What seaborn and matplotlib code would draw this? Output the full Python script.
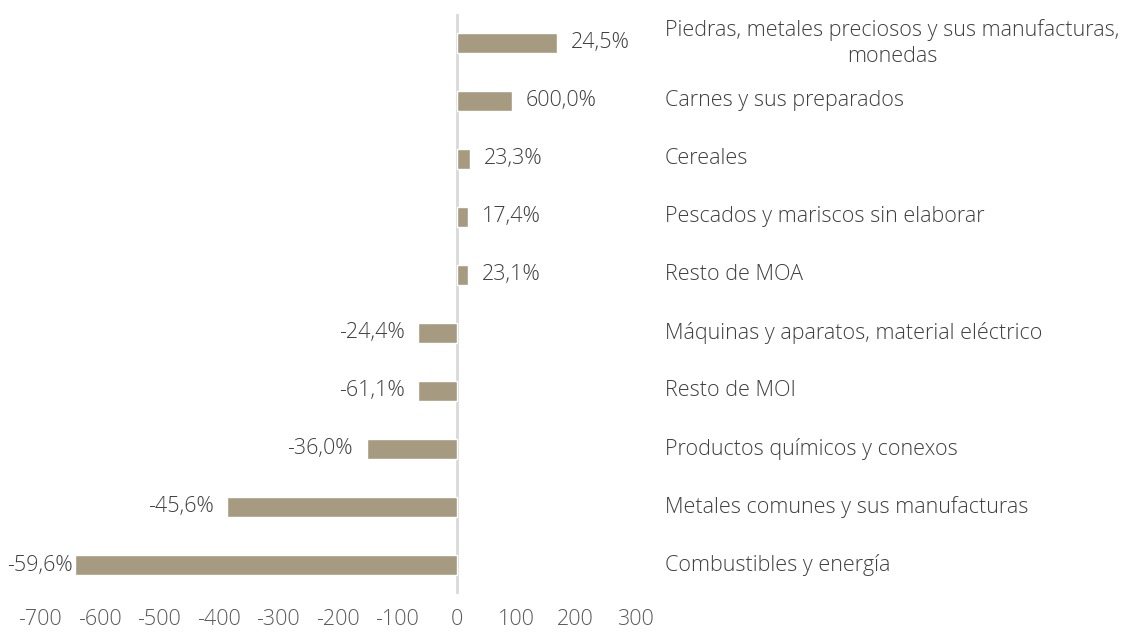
import matplotlib
matplotlib.use("Agg")
import matplotlib.pyplot as plt
import seaborn as sns
import pandas as pd

# Variación interanual por rubro (millones de USD) y variación porcentual
categorias = [
    "Piedras, metales preciosos y sus manufacturas,\nmonedas",
    "Carnes y sus preparados",
    "Cereales",
    "Pescados y mariscos sin elaborar",
    "Resto de MOA",
    "Máquinas y aparatos, material eléctrico",
    "Resto de MOI",
    "Productos químicos y conexos",
    "Metales comunes y sus manufacturas",
    "Combustibles y energía",
]
variacion_usd = [168.5, 93, 23, 18.5, 18.5, -64, -64, -151, -385, -641]
variacion_pct = ["24,5%", "600,0%", "23,3%", "17,4%", "23,1%",
                 "-24,4%", "-61,1%", "-36,0%", "-45,6%", "-59,6%"]
ticks_x = [-700, -600, -500, -400, -300, -200, -100, 0, 100, 200, 300]

df = pd.DataFrame({"rubro": categorias, "valor": variacion_usd, "pct": variacion_pct})

sns.set_theme(style="white")
plt.rcParams["font.family"] = ["Open Sans", "DejaVu Sans"]
FS = 15.5
W = "light"

fig = plt.figure(figsize=(11.26, 6.33), dpi=100)
ax = fig.add_axes([0.0355, 0.0616, 0.5285, 0.9164])

sns.barplot(data=df, y="rubro", x="valor", orient="h", color="#A69A80",
            saturation=1, width=0.34, ax=ax)

ax.set_xlim(-700, 300)
ax.set_xticks(ticks_x)
ax.set_xticklabels([str(t) for t in ticks_x], fontsize=FS, color="#595959",
                   fontweight=W)
ax.tick_params(axis="x", length=0, pad=11)
ax.set_yticks([])
ax.set_xlabel("")
ax.set_ylabel("")
for s in ax.spines.values():
    s.set_visible(False)
ax.axvline(0, color="#D9D9D9", lw=2, zorder=0)

# etiquetas de valor junto a cada barra
labels = []
for i, (v, p) in enumerate(zip(variacion_usd, variacion_pct)):
    off = 14 if v >= 0 else -14
    t = ax.annotate(p, xy=(v, i), xytext=(off, 0), textcoords="offset pixels",
                    ha="left" if v >= 0 else "right", va="center",
                    fontsize=FS, fontweight=W, color="#3F3F3F")
    labels.append(t)

# nombres de rubro a la derecha del gráfico
for i, c in enumerate(categorias):
    ax.annotate(c, xy=(1, i), xycoords=("axes fraction", "data"),
                xytext=(30, 0), textcoords="offset pixels",
                ha="left", va="center", multialignment="center",
                linespacing=1.3, fontsize=FS, fontweight=W, color="#3F3F3F",
                annotation_clip=False)

# evita que las etiquetas queden fuera del borde izquierdo
fig.canvas.draw()
r = fig.canvas.get_renderer()
for t in labels:
    bb = t.get_window_extent(r)
    if bb.x0 < 7:
        x, y = t.get_position()
        t.set_position((x + (7 - bb.x0), y))

fig.savefig("out.png", dpi=100, facecolor="white")
